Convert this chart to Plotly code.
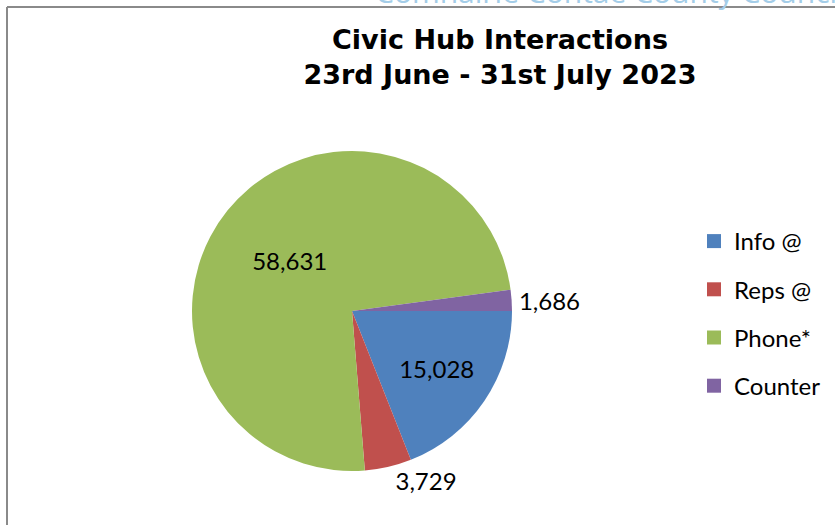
import plotly.graph_objects as go

categories = ["Info @", "Reps @", "Phone*", "Counter"]
values = [15028, 3729, 58631, 1686]
colors = ["#4F81BD", "#C0504D", "#9BBB59", "#8064A2"]
text_positions = ["inside", "outside", "inside", "outside"]
title_lines = ["Civic Hub Interactions", "23rd June - 31st July 2023"]
header_text = "Comhairle Contae County Council"

W, H = 835, 525

fig = go.Figure()
fig.add_trace(go.Pie(
    labels=categories,
    values=values,
    marker=dict(colors=colors, line=dict(width=0)),
    sort=False,
    direction="clockwise",
    rotation=90,
    texttemplate="%{value:,}",
    textposition=text_positions,
    insidetextorientation="horizontal",
    textfont=dict(family="Lato", size=24, color="black"),
    showlegend=False,
    hoverinfo="label+value",
    domain=dict(x=[192 / W, 512 / W], y=[1 - 471 / H, 1 - 151 / H]),
))

for name, col in zip(categories, colors):
    fig.add_trace(go.Scatter(
        x=[None], y=[None], mode="markers", name=name,
        marker=dict(symbol="square", size=14, color=col),
        legendgroup=name, showlegend=True,
    ))

fig.update_layout(
    width=W, height=H,
    margin=dict(l=0, r=0, t=0, b=0),
    paper_bgcolor="white", plot_bgcolor="white",
    xaxis=dict(visible=False), yaxis=dict(visible=False),
    title=dict(
        text="<br>".join(f"<b>{t}</b>" for t in title_lines),
        x=500 / W, xanchor="center", y=1 - 49 / H, yanchor="top",
        font=dict(family="DejaVu Sans", size=27, color="black"),
    ),
    legend=dict(
        x=694 / W, xanchor="left", y=1 - 219 / H, yanchor="top",
        font=dict(family="Lato", size=24, color="black"),
        tracegroupgap=14, itemsizing="trace",
        bgcolor="rgba(0,0,0,0)",
    ),
    shapes=[
        dict(type="line", xref="paper", yref="paper", x0=7 / W, x1=1, y0=1 - 7 / H, y1=1 - 7 / H,
             line=dict(color="#8a8a8a", width=2)),
        dict(type="line", xref="paper", yref="paper", x0=7 / W, x1=7 / W, y0=0, y1=1 - 7 / H,
             line=dict(color="#8a8a8a", width=2)),
    ],
    annotations=[
        dict(text=header_text, xref="paper", yref="paper", x=373 / W, xanchor="left",
             y=1 - 14 / H, yanchor="bottom", showarrow=False,
             font=dict(family="Open Sans", size=30, color="#a4cde8")),
    ],
)

fig.write_html("out.html", config={"displayModeBar": False},
               post_script="document.body.style.margin='0';")
